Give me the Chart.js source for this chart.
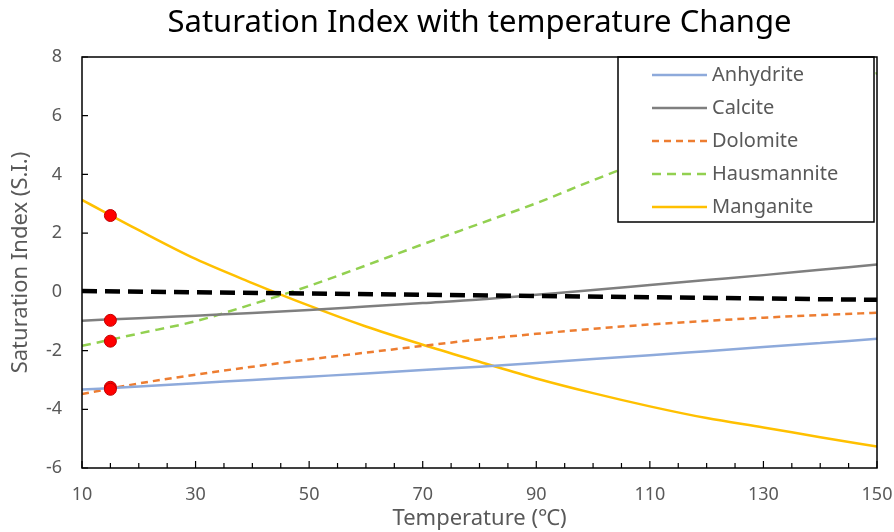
<!DOCTYPE html>
<html lang="en">
<head>
    <meta charset="UTF-8">
    <title>Saturation Index with temperature Change</title>
    <style>
        body {
            margin: 0;
            padding: 0;
            background-color: white;
        }
        #chartBox {
            width: 894px;
            height: 532px;
        }
    </style>
</head>
<body>
    <div id="chartBox">
        <canvas id="siChart"></canvas>
    </div>
    <script src="https://cdn.jsdelivr.net/npm/chart.js"></script>
    <script>
        // values
        const temps = [10, 20, 30, 40, 50, 60, 70, 80, 90, 100, 110, 120, 130, 140, 150];
        const anhydrite = [-3.33, -3.22, -3.11, -3.00, -2.89, -2.78, -2.66, -2.55, -2.42, -2.29, -2.16, -2.02, -1.88, -1.74, -1.60];
        const calcite = [-0.98, -0.90, -0.81, -0.72, -0.62, -0.50, -0.38, -0.26, -0.10, 0.06, 0.23, 0.40, 0.57, 0.75, 0.93];
        const dolomite = [-3.48, -3.12, -2.82, -2.55, -2.30, -2.07, -1.84, -1.62, -1.43, -1.26, -1.11, -0.99, -0.88, -0.79, -0.71];
        const hausmannite = [-1.84, -1.42, -1.00, -0.42, 0.20, 0.90, 1.62, 2.32, 3.02, 3.80, 4.55, 5.25, 5.97, 6.70, 7.45];
        const manganite = [3.13, 2.10, 1.12, 0.30, -0.47, -1.18, -1.80, -2.38, -2.95, -3.45, -3.90, -4.30, -4.62, -4.95, -5.27];

        const zeroX = [10, 150];
        const zeroY = [0.03, -0.27];

        const sampleX = [15, 15, 15, 15, 15];
        const sampleY = [2.6, -0.97, -1.68, -3.25, -3.32];

        const xTicks = [10, 30, 50, 70, 90, 110, 130, 150];
        const yTicks = [-6, -4, -2, 0, 2, 4, 6, 8];

        const seriesNames = ["Anhydrite", "Calcite", "Dolomite", "Hausmannite", "Manganite"];
        const seriesData = [anhydrite, calcite, dolomite, hausmannite, manganite];
        const seriesColors = ["#8eaadb", "#7f7f7f", "#ed7d31", "#92d050", "#ffc000"];
        const seriesDash = [[], [], [7, 5], [9, 6], []];

        const textGrey = "#595959";
        const fontName = "'Noto Sans', 'DejaVu Sans', sans-serif";

        function toPoints(xs, ys) {
            return xs.map((x, i) => ({ x: x, y: ys[i] }));
        }

        const datasets = [];
        datasets.push({
            label: "samples",
            type: "scatter",
            data: toPoints(sampleX, sampleY),
            backgroundColor: "#ff0000",
            borderColor: "#c00000",
            borderWidth: 1,
            pointRadius: 6,
            order: 0
        });
        for (let i = 0; i < seriesNames.length; i++) {
            datasets.push({
                label: seriesNames[i],
                data: toPoints(temps, seriesData[i]),
                borderColor: seriesColors[i],
                backgroundColor: seriesColors[i],
                borderWidth: 2.5,
                borderDash: seriesDash[i],
                pointRadius: 0,
                cubicInterpolationMode: "monotone",
                order: 2
            });
        }
        datasets.push({
            label: "zero",
            data: toPoints(zeroX, zeroY),
            borderColor: "#000000",
            borderWidth: 4.5,
            borderDash: [15, 8],
            pointRadius: 0,
            order: 1
        });

        // legend box drawn inside the plot, top right
        const insideLegend = {
            id: "insideLegend",
            afterDatasetsDraw(chart) {
                const ctx = chart.ctx;
                const area = chart.chartArea;
                const boxRight = area.right - 3;
                const boxLeft = boxRight - 256;
                const boxTop = area.top;
                const boxHeight = 165;
                ctx.save();
                ctx.fillStyle = "white";
                ctx.fillRect(boxLeft, boxTop, boxRight - boxLeft, boxHeight);
                ctx.strokeStyle = "#000";
                ctx.lineWidth = 1.5;
                ctx.strokeRect(boxLeft, boxTop, boxRight - boxLeft, boxHeight);
                ctx.font = "20px " + fontName;
                ctx.textBaseline = "middle";
                ctx.fillStyle = textGrey;
                for (let i = 0; i < seriesNames.length; i++) {
                    const y = boxTop + 18 + i * 33;
                    ctx.beginPath();
                    ctx.strokeStyle = seriesColors[i];
                    ctx.lineWidth = 2.5;
                    ctx.setLineDash(seriesDash[i]);
                    ctx.moveTo(boxLeft + 34, y);
                    ctx.lineTo(boxLeft + 89, y);
                    ctx.stroke();
                    ctx.setLineDash([]);
                    ctx.fillText(seriesNames[i], boxLeft + 94, y);
                }
                ctx.restore();
            }
        };

        // frame and inward tick marks
        const frameTicks = {
            id: "frameTicks",
            afterDraw(chart) {
                const ctx = chart.ctx;
                const area = chart.chartArea;
                const xs = chart.scales.x;
                const ys = chart.scales.y;
                ctx.save();
                ctx.strokeStyle = "#000";
                ctx.lineWidth = 1.5;
                ctx.strokeRect(area.left, area.top, area.right - area.left, area.bottom - area.top);
                ctx.lineWidth = 1.2;
                ctx.beginPath();
                for (let t = 10; t <= 150; t += 5) {
                    const px = xs.getPixelForValue(t);
                    const len = xTicks.includes(t) ? 7 : 5;
                    ctx.moveTo(px, area.bottom);
                    ctx.lineTo(px, area.bottom - len);
                }
                for (const v of yTicks) {
                    const py = ys.getPixelForValue(v);
                    ctx.moveTo(area.left, py);
                    ctx.lineTo(area.left + 6, py);
                }
                ctx.stroke();
                ctx.restore();
            }
        };

        new Chart(document.getElementById("siChart"), {
            type: "line",
            data: { datasets: datasets },
            options: {
                responsive: true,
                maintainAspectRatio: false,
                animation: false,
                layout: { padding: { right: 17, left: 0, top: 0, bottom: 0 } },
                plugins: {
                    legend: { display: false },
                    tooltip: { enabled: false },
                    title: {
                        display: true,
                        text: "Saturation Index with temperature Change",
                        fullSize: false,
                        color: "#000",
                        font: { family: fontName, size: 31, weight: "normal" },
                        padding: { top: 5, bottom: 14.8 }
                    }
                },
                scales: {
                    x: {
                        type: "linear",
                        min: 10,
                        max: 150,
                        afterBuildTicks: (scale) => {
                            scale.ticks = xTicks.map(v => ({ value: v }));
                        },
                        afterFit: (scale) => {
                            scale.height = 64;
                            scale.paddingLeft = 0;
                            scale.paddingRight = 0;
                        },
                        grid: { display: false, drawTicks: false },
                        border: { display: false },
                        ticks: {
                            color: textGrey,
                            font: { family: fontName, size: 18 },
                            padding: 16,
                            maxRotation: 0
                        },
                        title: {
                            display: true,
                            text: "Temperature (℃)",
                            color: textGrey,
                            font: { family: fontName, size: 22 },
                            padding: { top: 0, bottom: 0 }
                        }
                    },
                    y: {
                        min: -6,
                        max: 8,
                        afterBuildTicks: (scale) => {
                            scale.ticks = yTicks.map(v => ({ value: v }));
                        },
                        afterFit: (scale) => {
                            scale.width = 82;
                            scale.paddingTop = 0;
                            scale.paddingBottom = 0;
                        },
                        grid: { display: false, drawTicks: false },
                        border: { display: false },
                        ticks: {
                            color: textGrey,
                            font: { family: fontName, size: 18 },
                            padding: 20
                        },
                        title: {
                            display: true,
                            text: "Saturation Index (S.I.)",
                            color: textGrey,
                            font: { family: fontName, size: 22 },
                            padding: { top: 8, bottom: 0 }
                        }
                    }
                }
            },
            plugins: [insideLegend, frameTicks]
        });
    </script>
</body>
</html>
